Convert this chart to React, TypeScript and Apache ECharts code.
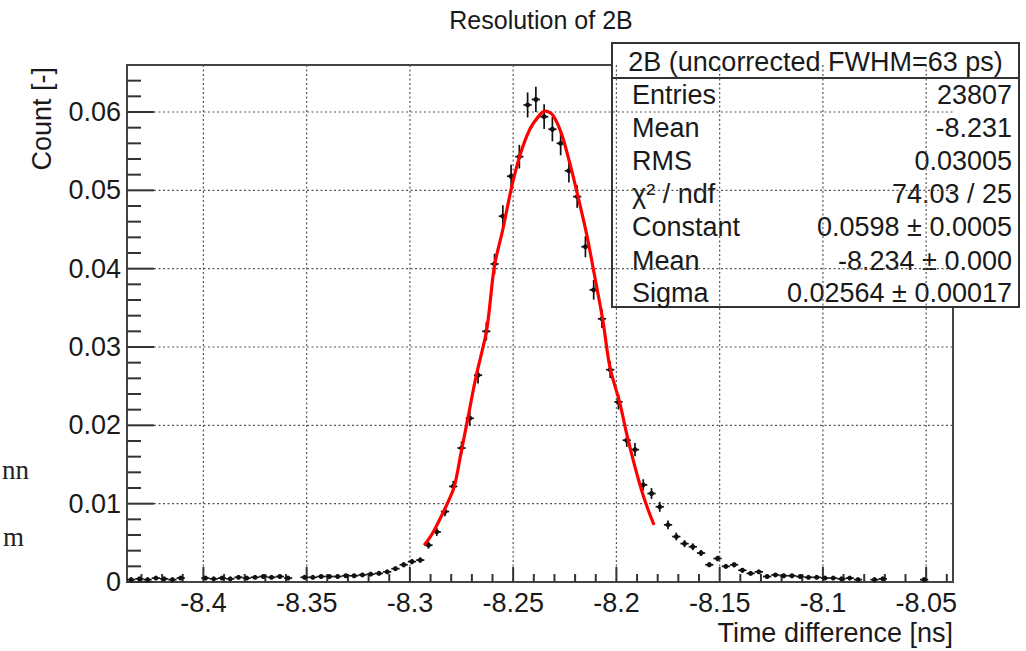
import React, { useEffect, useRef } from "react";
import * as echarts from "echarts";

// ---- texts ----
const TITLE = "Resolution of 2B";
const X_NAME = "Time difference [ns]";
const Y_NAME = "Count [-]";
const STATS_HEADER = "2B (uncorrected FWHM=63 ps)";
const STATS_LABELS = ["Entries", "Mean", "RMS", "χ² / ndf", "Constant", "Mean", "Sigma"];
const STATS_VALUES = ["23807", "-8.231", "0.03005", "74.03 / 25", "0.0598 ± 0.0005", "-8.234 ± 0.000", "0.02564 ± 0.00017"];
const STRAY_TEXTS = ["nn", "m"];

// ---- axes ----
const X_MIN = -8.437;
const X_MAX = -8.037;
const Y_MIN = 0;
const Y_MAX = 0.066;
const X_TICKS = [-8.4, -8.35, -8.3, -8.25, -8.2, -8.15, -8.1, -8.05];
const Y_TICKS = [0, 0.01, 0.02, 0.03, 0.04, 0.05, 0.06];
const X_MINOR_STEP = 0.01;
const Y_MINOR_STEP = 0.002;

// ---- histogram (normalised counts per bin) ----
const ENTRIES = 23807;
const BIN_WIDTH = 0.004;
const binCenters = [
  -8.435, -8.431, -8.427, -8.423, -8.419, -8.415, -8.411,
  -8.399, -8.395, -8.391, -8.387, -8.383, -8.379, -8.375, -8.371, -8.367, -8.363, -8.359,
  -8.351, -8.347, -8.343, -8.339, -8.335, -8.331, -8.327, -8.323, -8.319, -8.315, -8.311,
  -8.307, -8.303, -8.299, -8.295, -8.291, -8.287, -8.283, -8.279, -8.275, -8.271, -8.267,
  -8.263, -8.259, -8.255, -8.251, -8.247, -8.243, -8.239, -8.235, -8.231, -8.227, -8.223,
  -8.219, -8.215, -8.211, -8.207, -8.203, -8.199, -8.195, -8.191, -8.187, -8.183, -8.179,
  -8.175, -8.171, -8.167, -8.163, -8.159, -8.155, -8.151, -8.147, -8.143, -8.139, -8.135,
  -8.131, -8.127, -8.123, -8.119, -8.115, -8.111, -8.107, -8.103, -8.099, -8.095, -8.091,
  -8.087, -8.083, -8.075, -8.071, -8.051,
];
const binValues = [
  0.0003, 0.0004, 0.0003, 0.0005, 0.0004, 0.0003, 0.0005,
  0.0005, 0.0004, 0.0005, 0.0004, 0.0006, 0.0005, 0.0006, 0.0007, 0.0006, 0.0007, 0.0005,
  0.0006, 0.0006, 0.0007, 0.0007, 0.0007, 0.0008, 0.0008, 0.0009, 0.001, 0.0011, 0.0013,
  0.0017, 0.0022, 0.0026, 0.0028, 0.0047, 0.0064, 0.009, 0.0122, 0.0171, 0.0209, 0.0264,
  0.032, 0.0406, 0.0467, 0.0518, 0.0543, 0.0609, 0.0616, 0.0594, 0.0578, 0.056, 0.0525,
  0.0492, 0.0428, 0.0373, 0.0336, 0.0271, 0.023, 0.0181, 0.0169, 0.0124, 0.0113, 0.0096,
  0.0073, 0.0058, 0.0049, 0.0045, 0.0037, 0.0022, 0.003, 0.002, 0.0022, 0.0015, 0.0011,
  0.0013, 0.0007, 0.0009, 0.0008, 0.0008, 0.0007, 0.0006, 0.0006, 0.0005, 0.0005, 0.0004,
  0.0005, 0.0003, 0.0003, 0.0004, 0.0003,
];

// ---- gaussian fit curve ----
const fitX = [
  -8.2931, -8.2891, -8.2826, -8.2785, -8.2753, -8.2721, -8.268, -8.2628, -8.2591, -8.255,
  -8.251, -8.2469, -8.2421, -8.2372, -8.2343, -8.2308, -8.2267, -8.2226, -8.2186, -8.2145,
  -8.2105, -8.2065, -8.2032, -8.1983, -8.1951, -8.1919, -8.1878, -8.1846, -8.1818,
];
const fitY = [
  0.0047, 0.0062, 0.0096, 0.0122, 0.0164, 0.0207, 0.0262, 0.0322, 0.0403, 0.045,
  0.0501, 0.0543, 0.0577, 0.0596, 0.0601, 0.0596, 0.0573, 0.0535, 0.0492, 0.0445,
  0.039, 0.0333, 0.0275, 0.0228, 0.019, 0.0156, 0.0117, 0.0092, 0.0073,
];

const FONT = "'Liberation Sans', Arial, Helvetica, sans-serif";
const TEXT_COLOR = "#1a1a1a";

function round(v: number, d = 4) {
  const f = Math.pow(10, d);
  return Math.round(v * f) / f;
}

export default function App() {
  const ref = useRef<HTMLDivElement>(null);

  useEffect(() => {
    if (!ref.current) return;
    const chart = echarts.init(ref.current, undefined, { renderer: "svg" });

    // tick marks + grid lines: [x, y, kind]
    const tickData: number[][] = [];
    X_TICKS.forEach((v) => tickData.push([v, 0, 0]));
    for (let v = -8.43; v <= X_MAX + 1e-9; v += X_MINOR_STEP) {
      const r = round(v, 3);
      if (r < X_MIN) continue;
      if (X_TICKS.some((t) => Math.abs(t - r) < 1e-6)) continue;
      tickData.push([r, 0, 1]);
    }
    Y_TICKS.forEach((v) => tickData.push([X_MIN, v, 2]));
    for (let v = Y_MINOR_STEP; v < Y_MAX - 1e-9; v += Y_MINOR_STEP) {
      const r = round(v, 4);
      if (Y_TICKS.some((t) => Math.abs(t - r) < 1e-7)) continue;
      tickData.push([X_MIN, r, 3]);
    }

    const histData = binCenters.map((x, i) => [x, binValues[i], Math.sqrt(binValues[i] / ENTRIES)]);
    const fitData = fitX.map((x, i) => [x, fitY[i]]);

    const boxLeft = 612;
    const boxRight = 1019;
    const boxTop = 43;
    const headerBottom = 78;
    const boxBottom = 307;
    const rowY = [95, 128, 161, 194, 227, 261, 293];

    const statsChildren: any[] = [
      {
        type: "rect",
        shape: { x: boxLeft, y: boxTop, width: boxRight - boxLeft, height: boxBottom - boxTop },
        style: { fill: "#ffffff", stroke: "#333", lineWidth: 2 },
      },
      {
        type: "line",
        shape: { x1: boxLeft, y1: headerBottom, x2: boxRight, y2: headerBottom },
        style: { stroke: "#333", lineWidth: 2 },
      },
      {
        type: "text",
        x: (boxLeft + boxRight) / 2,
        y: (boxTop + headerBottom) / 2 + 1,
        style: {
          text: STATS_HEADER, fill: TEXT_COLOR, font: `27px ${FONT}`,
          textAlign: "center", textVerticalAlign: "middle",
        },
      },
    ];
    STATS_LABELS.forEach((lab, i) => {
      statsChildren.push({
        type: "text", x: 632, y: rowY[i],
        style: { text: lab, fill: TEXT_COLOR, font: `27px ${FONT}`, textAlign: "left", textVerticalAlign: "middle" },
      });
      statsChildren.push({
        type: "text", x: 1012, y: rowY[i],
        style: { text: STATS_VALUES[i], fill: TEXT_COLOR, font: `27px ${FONT}`, textAlign: "right", textVerticalAlign: "middle" },
      });
    });

    const option: any = {
      animation: false,
      backgroundColor: "#ffffff",
      grid: {
        left: 127, top: 65, right: 73, bottom: 69,
        show: true, borderColor: "#444", borderWidth: 2, backgroundColor: "transparent",
      },
      xAxis: {
        type: "value", min: X_MIN, max: X_MAX,
        axisLine: { show: false }, axisTick: { show: false }, splitLine: { show: false },
        axisLabel: {
          customValues: X_TICKS, margin: 7, color: TEXT_COLOR,
          fontFamily: FONT, fontSize: 27,
        },
      },
      yAxis: {
        type: "value", min: Y_MIN, max: Y_MAX, interval: 0.01,
        axisLine: { show: false }, axisTick: { show: false }, splitLine: { show: false },
        axisLabel: {
          showMaxLabel: false, margin: 6, color: TEXT_COLOR,
          fontFamily: FONT, fontSize: 27,
        },
      },
      series: [
        {
          type: "custom", name: "axes", silent: true, z: 1,
          data: tickData,
          renderItem: (params: any, api: any) => {
            const cs = params.coordSys;
            const kind = api.value(2);
            const bottom = cs.y + cs.height;
            const tickStyle = { stroke: "#333", lineWidth: 2 };
            const gridStyle = { stroke: "#555", lineWidth: 1.2, lineDash: [2, 2.5] };
            if (kind === 0 || kind === 1) {
              const p = api.coord([api.value(0), 0]);
              const children: any[] = [];
              if (kind === 0) {
                children.push({ type: "line", shape: { x1: p[0], y1: cs.y, x2: p[0], y2: bottom }, style: gridStyle });
              }
              const len = kind === 0 ? 15 : 8;
              children.push({ type: "line", shape: { x1: p[0], y1: bottom, x2: p[0], y2: bottom - len }, style: tickStyle });
              return { type: "group", children };
            }
            const p = api.coord([X_MIN, api.value(1)]);
            const children: any[] = [];
            if (kind === 2 && api.value(1) > 0) {
              children.push({ type: "line", shape: { x1: cs.x, y1: p[1], x2: cs.x + cs.width, y2: p[1] }, style: gridStyle });
            }
            const len = kind === 2 ? 27 : 14;
            children.push({ type: "line", shape: { x1: cs.x, y1: p[1], x2: cs.x + len, y2: p[1] }, style: tickStyle });
            return { type: "group", children };
          },
        },
        {
          type: "custom", name: "data", z: 3,
          data: histData,
          renderItem: (params: any, api: any) => {
            const x = api.value(0);
            const y = api.value(1);
            const e = api.value(2);
            const c = api.coord([x, y]);
            const t = api.coord([x, y + e]);
            const b = api.coord([x, Math.max(0, y - e)]);
            const l = api.coord([x - BIN_WIDTH / 2, y]);
            const r = api.coord([x + BIN_WIDTH / 2, y]);
            const st = { stroke: "#111", lineWidth: 1.7 };
            return {
              type: "group",
              children: [
                { type: "line", shape: { x1: c[0], y1: t[1], x2: c[0], y2: b[1] }, style: st },
                { type: "line", shape: { x1: l[0], y1: c[1], x2: r[0], y2: c[1] }, style: st },
                { type: "circle", shape: { cx: c[0], cy: c[1], r: 2.5 }, style: { fill: "#111" } },
              ],
            };
          },
        },
        {
          type: "line", name: "fit", z: 4,
          data: fitData, smooth: 0.3, showSymbol: false, symbol: "none",
          lineStyle: { color: "#ff0000", width: 3.2 },
        },
      ],
      graphic: [
        {
          type: "text", x: 541, y: 20,
          style: { text: TITLE, fill: TEXT_COLOR, font: `25px ${FONT}`, textAlign: "center", textVerticalAlign: "middle" },
        },
        {
          type: "text", x: 953, y: 633,
          style: { text: X_NAME, fill: TEXT_COLOR, font: `27px ${FONT}`, textAlign: "right", textVerticalAlign: "middle" },
        },
        {
          type: "text", x: 42, y: 67, rotation: Math.PI / 2,
          style: { text: Y_NAME, fill: TEXT_COLOR, font: `27px ${FONT}`, textAlign: "right", textVerticalAlign: "middle" },
        },
        {
          type: "text", x: 2, y: 470,
          style: { text: STRAY_TEXTS[0], fill: "#222", font: "27px 'Liberation Serif', serif", textAlign: "left", textVerticalAlign: "middle" },
        },
        {
          type: "text", x: 3, y: 537,
          style: { text: STRAY_TEXTS[1], fill: "#222", font: "27px 'Liberation Serif', serif", textAlign: "left", textVerticalAlign: "middle" },
        },
        { type: "group", z: 100, children: statsChildren },
      ],
    };

    chart.setOption(option);
    return () => chart.dispose();
  }, []);

  return (
    <div
      ref={ref}
      style={{ position: "absolute", left: 0, top: 0, width: 1026, height: 651, background: "#fff" }}
    />
  );
}
